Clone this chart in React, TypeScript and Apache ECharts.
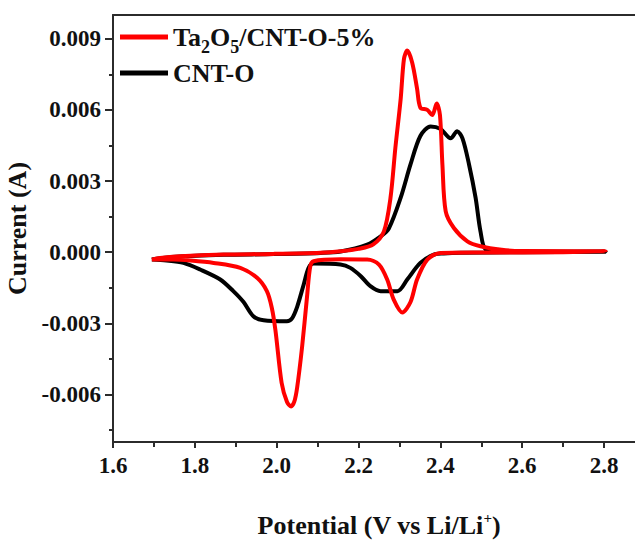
import React, { useEffect, useRef } from 'react';
import * as echarts from 'echarts';

const FONT = '"Liberation Serif", "Times New Roman", Times, serif';

// Ta2O5/CNT-O-5% : closed CV loop (anodic sweep then cathodic sweep)
const ta2o5Potential = [
  1.695, 1.715, 1.764, 1.87, 1.992, 2.107, 2.156, 2.2, 2.236, 2.262, 2.278, 2.29, 2.303, 2.311, 2.319,
  2.331, 2.343, 2.351, 2.368, 2.38, 2.391, 2.399, 2.405, 2.413, 2.433, 2.466, 2.498, 2.55, 2.6, 2.804,
  2.7, 2.5, 2.4, 2.368, 2.343, 2.327, 2.307, 2.286, 2.27, 2.25, 2.221, 2.156, 2.09, 2.082, 2.074, 2.062,
  2.05, 2.043, 2.035, 2.025, 2.012, 1.997, 1.988, 1.976, 1.952, 1.911, 1.846, 1.789, 1.748, 1.695,
];
const ta2o5Current = [
  -0.00031, -0.00024, -0.00017, -0.0001, -0.00007, -0.00002, 0.00004, 0.00014, 0.00033, 0.00088, 0.00228, 0.0044, 0.00647, 0.00815, 0.0085,
  0.008, 0.0069, 0.0061, 0.006, 0.00578, 0.00627, 0.00578, 0.00368, 0.00172, 0.00102, 0.00046, 0.00025, 0.0001, 0.00005, 0.00004,
  0.0, -0.00001, -0.00003, -0.00031, -0.00115, -0.0021, -0.00254, -0.002, -0.00115, -0.00052, -0.00031, -0.0003, -0.00038, -0.0006, -0.0019, -0.004,
  -0.0057, -0.0063, -0.0065, -0.0063, -0.0055, -0.0033, -0.00234, -0.00164, -0.00108, -0.00066, -0.00045, -0.00035, -0.00031, -0.00031,
];

// CNT-O : closed CV loop
const cntPotential = [
  1.695, 1.715, 1.764, 1.87, 1.992, 2.107, 2.156, 2.221, 2.254, 2.274, 2.303, 2.327, 2.351, 2.376, 2.4,
  2.425, 2.441, 2.454, 2.47, 2.486, 2.498, 2.511, 2.55, 2.804,
  2.6, 2.45, 2.408, 2.384, 2.351, 2.319, 2.295, 2.254, 2.229, 2.205, 2.18, 2.156, 2.09, 2.078, 2.066,
  2.05, 2.037, 2.025, 1.968, 1.943, 1.919, 1.894, 1.862, 1.813, 1.772, 1.731, 1.695,
];
const cntCurrent = [
  -0.00031, -0.00025, -0.00018, -0.00011, -0.00008, -0.00003, 0.00003, 0.00032, 0.00067, 0.001, 0.0023, 0.0037, 0.0049, 0.0053, 0.0052,
  0.0048, 0.0051, 0.0048, 0.0037, 0.0023, 0.00088, 0.00011, 0.00003, 0.00002,
  0.0, -0.00002, -0.00005, -0.0001, -0.00045, -0.00115, -0.00164, -0.00164, -0.00143, -0.001, -0.00066, -0.00052, -0.00048, -0.00066, -0.00136,
  -0.0023, -0.0028, -0.00291, -0.00287, -0.0027, -0.0021, -0.00164, -0.00115, -0.00073, -0.00045, -0.00035, -0.00031,
];

const potentialTicks = [1.6, 1.8, 2.0, 2.2, 2.4, 2.6, 2.8];
const potentialMinorTicks = [1.7, 1.9, 2.1, 2.3, 2.5, 2.7];
const currentTicks = [-0.006, -0.003, 0, 0.003, 0.006, 0.009];
const currentMinorTicks = [-0.0075, -0.0045, -0.0015, 0.0015, 0.0045, 0.0075];

const seriesNames = ['Ta2O5/CNT-O-5%', 'CNT-O'];

const zip = (xs: number[], ys: number[]) => xs.map((x, i) => [x, ys[i]]);

const AXIS_COLOR = '#2b2b2b';
const TEXT_COLOR = '#111';

export default function App() {
  const ref = useRef<HTMLDivElement>(null);
  useEffect(() => {
    document.body.style.margin = '0';
    const chart = echarts.init(ref.current!, null, { renderer: 'svg' });
    const labelStyle = { fontFamily: FONT, fontWeight: 'bold' as const, fontSize: 23, color: TEXT_COLOR };
    chart.setOption({
      animation: false,
      backgroundColor: '#fff',
      grid: { left: 113, top: 15, right: -10, bottom: 100, containLabel: false, outerBoundsMode: 'none' },
      legend: {
        data: seriesNames,
        orient: 'vertical',
        left: 120,
        top: 20,
        padding: 0,
        itemGap: 4,
        itemWidth: 48,
        itemHeight: 5,
        icon: 'rect',
        formatter: (name: string) =>
          name === seriesNames[0] ? '{n|Ta}{s|2}{n|O}{s|5}{n|/CNT-O-5%}' : '{n|CNT-O}',
        textStyle: {
          fontFamily: FONT, fontWeight: 'bold', fontSize: 26, color: TEXT_COLOR,
          rich: {
            n: { fontFamily: FONT, fontWeight: 'bold', fontSize: 26, color: TEXT_COLOR, lineHeight: 38 },
            s: { fontFamily: FONT, fontWeight: 'bold', fontSize: 18, color: TEXT_COLOR, lineHeight: 18, verticalAlign: 'bottom', padding: [18, 0, 0, 0] },
          },
        },
      },
      xAxis: [
        {
          type: 'value', position: 'bottom', min: 1.6, max: 2.9,
          name: 'Potential (V vs Li/Li{sup|+})', nameLocation: 'middle', nameGap: 68,
          nameTextStyle: {
            fontFamily: FONT, fontWeight: 'bold', fontSize: 26, color: TEXT_COLOR, lineHeight: 30,
            rich: { sup: { fontFamily: FONT, fontWeight: 'bold', fontSize: 15, color: TEXT_COLOR, verticalAlign: 'top', lineHeight: 15 } },
          },
          axisLine: { show: true, onZero: false, lineStyle: { color: AXIS_COLOR, width: 2 } },
          axisTick: { show: true, inside: false, length: 6, customValues: potentialTicks, lineStyle: { color: AXIS_COLOR, width: 2 } },
          axisLabel: { ...labelStyle, margin: 12, customValues: potentialTicks, formatter: (v: number) => v.toFixed(1) },
          splitLine: { show: false },
        },
        {
          type: 'value', position: 'bottom', min: 1.6, max: 2.9,
          axisLine: { show: false, onZero: false },
          axisTick: { show: true, inside: false, length: 5, customValues: potentialMinorTicks, lineStyle: { color: AXIS_COLOR, width: 2 } },
          axisLabel: { show: false },
          splitLine: { show: false },
        },
        {
          type: 'value', position: 'top', min: 1.6, max: 2.9,
          axisLine: { show: true, onZero: false, lineStyle: { color: AXIS_COLOR, width: 2 } },
          axisTick: { show: false }, axisLabel: { show: false }, splitLine: { show: false },
        },
      ],
      yAxis: [
        {
          type: 'value', position: 'left', min: -0.008, max: 0.01,
          name: 'Current (A)', nameLocation: 'middle', nameGap: 78,
          nameTextStyle: { fontFamily: FONT, fontWeight: 'bold', fontSize: 26, color: TEXT_COLOR },
          axisLine: { show: true, onZero: false, lineStyle: { color: AXIS_COLOR, width: 2 } },
          axisTick: { show: true, inside: false, length: 8, customValues: currentTicks, lineStyle: { color: AXIS_COLOR, width: 2 } },
          axisLabel: { ...labelStyle, margin: 12, customValues: currentTicks, formatter: (v: number) => v.toFixed(3) },
          splitLine: { show: false },
        },
        {
          type: 'value', position: 'left', min: -0.008, max: 0.01,
          axisLine: { show: false, onZero: false },
          axisTick: { show: true, inside: false, length: 4, customValues: currentMinorTicks, lineStyle: { color: AXIS_COLOR, width: 2 } },
          axisLabel: { show: false },
          splitLine: { show: false },
        },
        {
          type: 'value', position: 'right', min: -0.008, max: 0.01,
          axisLine: { show: true, onZero: false, lineStyle: { color: AXIS_COLOR, width: 2 } },
          axisTick: { show: false }, axisLabel: { show: false }, splitLine: { show: false },
        },
      ],
      series: [
        {
          name: seriesNames[1], type: 'line', xAxisIndex: 0, yAxisIndex: 0,
          data: zip(cntPotential, cntCurrent), showSymbol: false, symbol: 'none', smooth: 0.3,
          lineStyle: { color: '#000', width: 4 }, itemStyle: { color: '#000' },
        },
        {
          name: seriesNames[0], type: 'line', xAxisIndex: 0, yAxisIndex: 0,
          data: zip(ta2o5Potential, ta2o5Current), showSymbol: false, symbol: 'none', smooth: 0.3,
          lineStyle: { color: '#ff0000', width: 4 }, itemStyle: { color: '#ff0000' },
        },
      ],
    });
    return () => chart.dispose();
  }, []);
  return <div ref={ref} style={{ width: 635, height: 542 }} />;
}
